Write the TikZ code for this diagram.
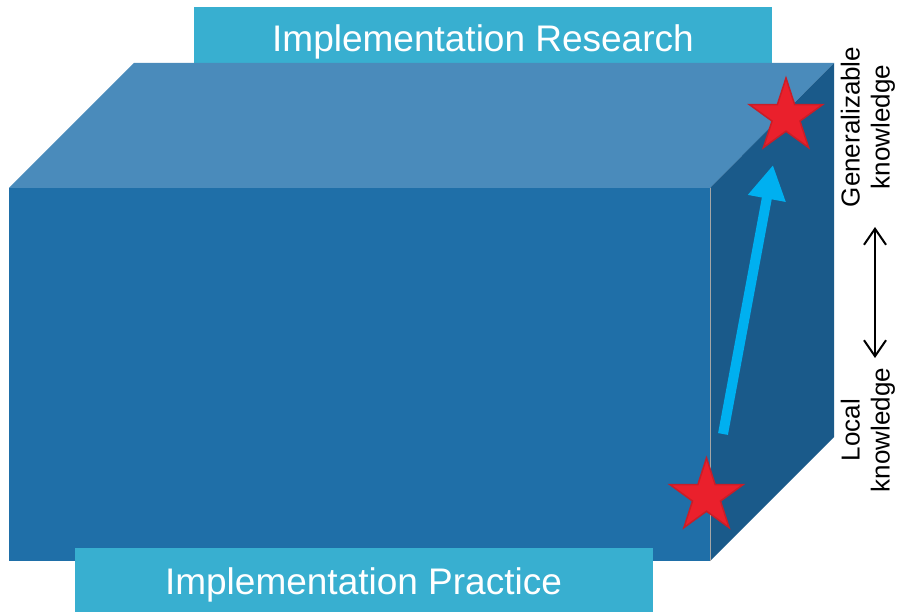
\documentclass[tikz,border=0pt]{standalone}
\usepackage{fontspec}
\setmainfont{Liberation Sans}
\usetikzlibrary{shapes.geometric,arrows.meta}

\definecolor{frontblue}{RGB}{31,111,168}
\definecolor{topblue}{RGB}{74,139,187}
\definecolor{sideblue}{RGB}{26,90,138}
\definecolor{bannerblue}{RGB}{56,175,208}
\definecolor{starred}{RGB}{234,32,44}
\definecolor{starrim}{RGB}{200,30,40}
\definecolor{arrowcyan}{RGB}{0,176,240}

\begin{document}
\begin{tikzpicture}[x=1pt,y=-1pt,inner sep=0pt,outer sep=0pt,
    banner/.style={fill=bannerblue, text=white, minimum width=578pt, text depth=0pt, font=\fontsize{37}{44}\selectfont},
    redstar/.style={star, star points=5, star point ratio=2.618, minimum size=77pt, fill=starred, draw=starrim, line width=1.5pt},
    sidetext/.style={rotate=90, align=center, font=\fontsize{26}{30}\selectfont}]
    \useasboundingbox (0,0) rectangle (899,612);

    % research banner
    \node[banner, minimum height=56pt, text height=34pt] (research) at (483,35) {Implementation Research};

    % box faces
    \fill[topblue] (9,188) -- (134,63) -- (834,63) -- (710,188) -- cycle;
    \fill[sideblue] (710,188) -- (834,63) -- (834,437) -- (710,561) -- cycle;
    \fill[frontblue] (9,188) rectangle (710,561);
    \draw[gray!70, line width=0.8pt] (710,188) -- (710,561);

    % practice banner
    \node[banner, minimum height=64pt, text height=28pt] (practice) at (363.5,580) {Implementation Practice};

    % stars
    \node[redstar] (localstar) at (706.5,496.5) {};
    \node[redstar] (genstar) at (786,116.5) {};

    % rising arrow
    \coordinate (risestart) at (723,434);
    \coordinate (riseend) at (773,165);
    \draw[arrowcyan, line width=10pt, -{Triangle[length=34pt,width=36pt]}] (risestart) -- (riseend);

    % knowledge scale
    \coordinate (scaletop) at (875,227);
    \coordinate (scalebottom) at (875,358);
    \draw[line width=2pt, {Straight Barb[length=16pt,width=22pt]}-{Straight Barb[length=16pt,width=22pt]}] (scaletop) -- (scalebottom);

    \node[sidetext] (general) at (868,127) {Generalizable\\knowledge};
    \node[sidetext] (local) at (868,430) {Local\\knowledge};

\end{tikzpicture}
\end{document}
